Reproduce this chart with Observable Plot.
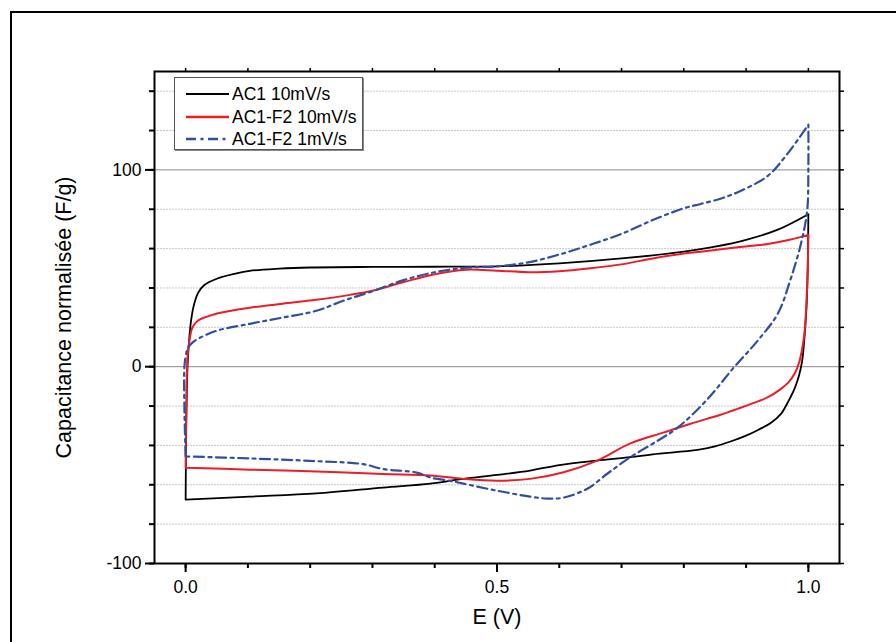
<!DOCTYPE html>
<html><head><meta charset="utf-8">
<script src="https://cdn.jsdelivr.net/npm/d3@7"></script>
<script src="https://cdn.jsdelivr.net/npm/@observablehq/plot@0.6"></script>
<style>
html,body{margin:0;padding:0;background:#fff;overflow:hidden;}
#wrap{position:relative;width:896px;height:642px;font-family:"Liberation Sans",Arial,sans-serif;}
#chart{position:absolute;left:0;top:0;}
#outer{position:absolute;left:10px;top:11px;width:900px;height:650px;border:2px solid #000;pointer-events:none;}
#legend{position:absolute;left:174px;top:77px;width:189px;height:73px;box-sizing:border-box;border:1px solid #555;background:#fff;box-shadow:1px 1px 0 #888;}
.row{position:absolute;left:0;height:22px;display:flex;align-items:center;font-size:17.5px;color:#000;white-space:nowrap;}
.row svg{margin-left:11px;margin-right:3px;}
</style></head><body>
<div id="wrap"><div id="chart"></div><div id="outer"></div><div id="legend"></div></div>
<script>
// Series names and styles
const seriesNames = ["AC1 10mV/s", "AC1-F2 10mV/s", "AC1-F2 1mV/s"];
const seriesColors = ["#000000", "#ee1c25", "#2e4fa3"];
const seriesDash = [null, null, "10,4.5,3,4.5"];
const seriesWidth = [1.8, 2, 2.2];

// AC1 10mV/s  (loop: forward scan then reverse scan; corner point repeated)
const ac1_10_E = [0, 0.001, 0.003, 0.006, 0.009, 0.013, 0.02, 0.03, 0.05, 0.08, 0.103, 0.15, 0.2, 0.3, 0.4, 0.5, 0.6, 0.7, 0.8, 0.85, 0.9, 0.95, 1.0,
  1.0, 0.999, 0.997, 0.993, 0.99, 0.985, 0.978, 0.968, 0.956, 0.94, 0.92, 0.9, 0.875, 0.85, 0.822, 0.75, 0.714, 0.661, 0.6, 0.553, 0.5, 0.446, 0.393, 0.317, 0.21, 0.103, 0];
const ac1_10_C = [-67.5, -30, 0, 15, 24, 31, 37.5, 41.5, 44.7, 47.3, 48.7, 49.8, 50.4, 50.7, 50.8, 51, 52.5, 55, 58.5, 61, 64.5, 69.5, 77.5,
  77.5, 50, 30, 12, 3, -4.5, -11, -17.5, -24, -28.5, -32, -35, -38, -40.5, -42.3, -44.5, -46, -47.7, -50, -52.8, -55, -57, -59.4, -61.4, -64.4, -66, -67.5];

// AC1-F2 10mV/s
const f2_10_E = [0, 0.001, 0.003, 0.006, 0.011, 0.02, 0.05, 0.103, 0.156, 0.21, 0.264, 0.3, 0.35, 0.4, 0.45, 0.5, 0.55, 0.6, 0.65, 0.7, 0.75, 0.8, 0.827, 0.88, 0.935, 0.97, 1.0,
  1.0, 0.999, 0.997, 0.994, 0.99, 0.985, 0.978, 0.968, 0.955, 0.935, 0.92, 0.89, 0.859, 0.811, 0.767, 0.714, 0.661, 0.607, 0.553, 0.5, 0.446, 0.393, 0.317, 0.21, 0.103, 0];
const f2_10_C = [-51.3, -20, 5, 13, 20, 23.5, 27, 30, 32, 34, 36.5, 38.6, 43, 47, 49.3, 48.8, 48, 48.5, 50, 52, 55, 57.5, 58.4, 60.5, 62.4, 64.5, 67,
  67, 50, 33.5, 18, 9, 2, -3.5, -8, -11.5, -15.5, -17.5, -21, -24.4, -29, -33.5, -39, -47.7, -53.6, -57, -57.9, -57, -55.3, -54.5, -53.2, -52.3, -51.3];

// AC1-F2 1mV/s
const f2_1_E = [0, -0.002, -0.002, 0, 0.003, 0.01, 0.023, 0.05, 0.103, 0.156, 0.21, 0.253, 0.3, 0.35, 0.4, 0.45, 0.5, 0.55, 0.6, 0.65, 0.7, 0.75, 0.8, 0.827, 0.86, 0.891, 0.935, 0.966, 1.0,
  1.0, 1.0, 0.998, 0.988, 0.972, 0.951, 0.918, 0.88, 0.838, 0.79, 0.758, 0.714, 0.677, 0.645, 0.607, 0.58, 0.553, 0.5, 0.446, 0.425, 0.393, 0.371, 0.317, 0.285, 0.21, 0.103, 0];
const f2_1_C = [-45.6, -20, 0, 5, 9, 12, 14.7, 18.3, 21.8, 25, 28.4, 33.5, 38.3, 44, 48, 50.3, 51, 53, 57, 62, 67.5, 74.5, 80.5, 82.7, 85.5, 89.3, 97, 108, 123,
  123, 101, 79, 62.4, 45, 27, 13, -0.5, -16.5, -31, -37.6, -46, -54.4, -62, -66.5, -67, -66, -63, -59.4, -58, -56.3, -53.8, -52, -49.5, -48, -46.6, -45.6];

// Tick values
const yMajorTicks = [-100, 0, 100];
const yMinorTicks = d3.range(-100, 151, 20);
const xMajorTicks = [0, 0.5, 1.0];
const xMinorTicks = d3.range(0, 11).map(i => i / 10);
const gridLight = [-80, -60, -40, -20, 20, 40, 60, 80, 120, 140];
const gridDark = [0, 100];

const xLabel = "E (V)";
const yLabel = "Capacitance normalisée (F/g)";

const seriesE = [ac1_10_E, f2_10_E, f2_1_E];
const seriesC = [ac1_10_C, f2_10_C, f2_1_C];
const rowsBySeries = seriesE.map((E, s) => E.map((e, i) => ({E: e, C: seriesC[s][i], s: seriesNames[s]})));

const chart = Plot.plot({
  width: 896,
  height: 642,
  marginLeft: 154,
  marginRight: 57,
  marginTop: 71,
  marginBottom: 79,
  style: {fontFamily: '"Liberation Sans", Arial, sans-serif', fontSize: "17.5px", color: "#000", background: "transparent"},
  x: {domain: [-0.05, 1.05]},
  y: {domain: [-100, 150]},
  marks: [
    Plot.gridY({ticks: gridLight, stroke: "#c8c8c8", strokeOpacity: 1, strokeWidth: 1, strokeDasharray: "2,1"}),
    Plot.gridY({ticks: gridDark, stroke: "#8a8a8a", strokeOpacity: 1, strokeWidth: 1}),
    ...rowsBySeries.map((rows, s) => Plot.line(rows, {
      x: "E", y: "C", stroke: seriesColors[s], strokeWidth: seriesWidth[s],
      strokeDasharray: seriesDash[s] ?? undefined, curve: "catmull-rom"
    })),
    Plot.frame({stroke: "#000", strokeWidth: 2}),
    Plot.axisY({ticks: yMajorTicks, tickSize: 9, tickPadding: 4, tickFormat: d => `${d}`, strokeWidth: 2, label: null, fontSize: 17.5}),
    Plot.axisY({ticks: yMinorTicks, tickSize: 5, tickFormat: () => "", strokeWidth: 2, label: null}),
    Plot.axisY({anchor: "right", ticks: yMinorTicks, tickSize: 4, tickFormat: () => "", strokeWidth: 1.5, label: null}),
    Plot.axisX({ticks: xMajorTicks, tickSize: 9, tickPadding: 8, tickFormat: d3.format(".1f"), strokeWidth: 2, label: null, fontSize: 17.5}),
    Plot.axisX({ticks: xMinorTicks, tickSize: 5, tickFormat: () => "", strokeWidth: 2, label: null}),
    Plot.axisX({anchor: "top", ticks: xMinorTicks, tickSize: 4, tickFormat: () => "", strokeWidth: 1.5, label: null}),
    Plot.text([xLabel], {text: d => d, frameAnchor: "bottom", textAnchor: "middle", dy: 54, lineAnchor: "middle", fontSize: 21.5, fill: "#000"}),
    Plot.text([yLabel], {text: d => d, frameAnchor: "left", textAnchor: "middle", dx: -90, rotate: -90, lineAnchor: "middle", fontSize: 21.5, fill: "#000"})
  ]
});
document.getElementById("chart").appendChild(chart);

// Legend inside the plot
const legend = document.getElementById("legend");
const rowTops = [5, 28, 50];
seriesNames.forEach((name, i) => {
  const row = document.createElement("div");
  row.className = "row";
  row.style.top = rowTops[i] + "px";
  const dash = seriesDash[i] ? `stroke-dasharray="${seriesDash[i]}"` : "";
  row.innerHTML = `<svg width="43" height="6"><line x1="0" y1="3" x2="43" y2="3" stroke="${seriesColors[i]}" stroke-width="${seriesWidth[i] + 0.3}" ${dash}/></svg><span>${name}</span>`;
  legend.appendChild(row);
});
</script>
</body></html>
